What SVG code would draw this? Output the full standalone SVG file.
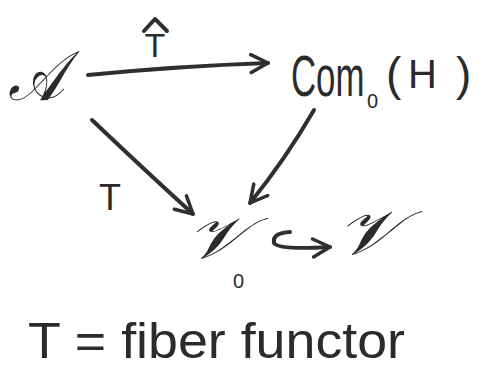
<svg xmlns="http://www.w3.org/2000/svg" width="502" height="383" viewBox="0 0 502 383">
<style>
.t{font-family:"Liberation Sans","DejaVu Sans",sans-serif;fill:#2b2b2b}
.s{font-family:"DejaVu Serif","Liberation Serif",serif;font-style:italic;fill:#2b2b2b}
.e{fill:none;stroke:#2f2f2f;stroke-width:4;stroke-linecap:round;stroke-linejoin:round}
</style>
<defs>
<marker id="ah" markerWidth="22" markerHeight="22" refX="19" refY="11" orient="auto" markerUnits="userSpaceOnUse" viewBox="0 0 22 22">
<path d="M2,2 L19,11 L2,20" fill="none" stroke="#2f2f2f" stroke-width="3.5" stroke-linecap="round" stroke-linejoin="round"/>
</marker>
</defs>
<rect width="502" height="383" fill="#fff"/>
<g id="nodeA"><text class="s" x="8" y="100" font-size="70" textLength="56" lengthAdjust="spacingAndGlyphs">𝒜</text></g>
<g id="nodeCom">
<text class="t" transform="matrix(0.6,0,0,1,291,96)" x="0" y="0" font-size="58">Com</text>
<text class="t" x="367" y="108" font-size="20">0</text>
<text class="t" x="386" y="90" font-size="46">(</text>
<text class="t" x="408" y="88" font-size="40">H</text>
<text class="t" x="456" y="90" font-size="46">)</text>
</g>
<g id="nodeV0">
<text class="s" x="186" y="258" font-size="58" textLength="60" lengthAdjust="spacingAndGlyphs">𝒱</text>
<text class="t" x="233" y="288" font-size="20">0</text>
</g>
<g id="nodeV"><text class="s" x="336" y="254" font-size="62" textLength="64" lengthAdjust="spacingAndGlyphs">𝒱</text></g>
<g id="connectors">
<path class="e" d="M88,75 Q180,66 268,63" marker-end="url(#ah)"/>
<path class="e" d="M92,120 Q150,175 193,214" marker-end="url(#ah)"/>
<path class="e" d="M314,110 Q285,160 250,203" marker-end="url(#ah)"/>
<path class="e" d="M290,232 Q272,233 274,243 Q278,250 330,247" marker-end="url(#ah)"/>
</g>
<g id="labels">
<text class="t" x="155" y="57" font-size="34" text-anchor="middle">T</text>
<path class="e" d="M144,31 L155,19 L167,31" stroke-width="3.5"/>
<text class="t" x="110" y="210" font-size="36" text-anchor="middle">T</text>
<text class="t" x="28" y="358" font-size="50" textLength="377" lengthAdjust="spacingAndGlyphs">T = fiber functor</text>
</g>
</svg>
